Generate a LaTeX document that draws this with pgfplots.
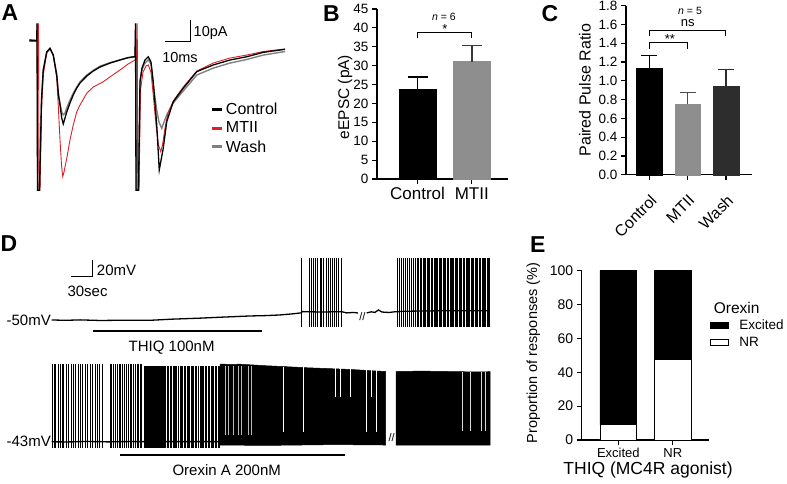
\documentclass[border=0pt]{standalone}
\usepackage{fontspec}
\setmainfont{Liberation Sans}
\usepackage{pgfplots}
\pgfplotsset{compat=1.18}
\definecolor{mred}{RGB}{218,32,40}
\definecolor{wgray}{RGB}{128,128,128}
\definecolor{bgray}{RGB}{142,142,142}
\definecolor{dgray}{RGB}{45,45,45}
\newcommand{\fsz}[1]{\fontsize{#1}{#1}\selectfont}
\pgfplotsset{
  /pgf/number format/assume math mode=true,
  barax/.style={scale only axis, anchor=south west,
    axis x line*=bottom, axis y line*=left,
    axis line style={-, line width=1.2pt, black},
    tick align=outside, major tick length=5pt,
    tick style={line width=1.2pt, black}, clip=false},
  spk/.style={draw=none, mark=none, forget plot,
    error bars/.cd, y dir=both, y fixed=#1, error mark=none,
    error bar style={draw=black, line width=0.6pt}},
}
\begin{document}
\begin{tikzpicture}
\path[use as bounding box] (0pt,0pt) rectangle (787pt,-484pt);

% ---------------- Panel A ----------------
\begin{axis}[at={(25pt,-194.3pt)}, anchor=south west, scale only axis,
  width=270pt, height=178.5pt, xmin=-2, xmax=106, ymin=-73, ymax=12,
  hide axis, clip=false,
  legend style={at={(axis cs:72.3,-28.4)}, anchor=north west, draw=none, fill=none,
    font=\fsz{16}, inner sep=0pt, row sep=2pt},
  legend cell align=left,
  legend image code/.code={\draw[#1, line width=3pt] (0pt,0pt) -- (10pt,0pt);}]
\addplot[wgray, line width=1.4pt, forget plot] coordinates {
(-0.3,0.3) (2.7,0.3) (2.9,8.4) (3.1,-71) (3.8,-71) (4.6,-28) (5.3,-13.8) (6.7,-5.2) (8,-3.5) (9.3,-6.7) (10.7,-16.2) (11.4,-25.7) (12,-29.5) (12.7,-33.8) (13.3,-35.2) (14,-34.3) (14.7,-31.9) (16,-28.1) (17.3,-24.8) (18.7,-21.9) (20,-19.5) (22.7,-16.2) (25.3,-14) (28,-12) (32,-10.3) (36,-9) (39.2,-8) (42,-7.6) (42.4,8.4) (42.6,-71) (43.4,-71) (44,-19.4) (44.8,-13.5) (46,-10.5) (47.3,-9) (48.4,-11) (49.3,-21) (50.7,-32.9) (51.6,-38.6) (52.7,-41.6) (53.6,-38.6) (54.7,-35.2) (57.3,-29.5) (61.3,-23.8) (66.7,-16.2) (73.3,-12.9) (80,-10.5) (86.7,-8.8) (93.3,-6.7) (102,-5)};
\addplot[mred, line width=0.9pt, forget plot] coordinates {
(-0.3,-0.2) (2.7,-0.2) (3.4,8.4) (3.6,-71) (4.0,-71) (4.6,-32.9) (5.3,-16.2) (6.7,-5.7) (8,-3.8) (9.3,-6.7) (10.7,-17.6) (11.4,-32.9) (12,-47.1) (12.6,-59) (13.1,-64.6) (13.6,-62.4) (14.7,-55.9) (16,-47.1) (17.3,-40) (18.7,-33.8) (20,-30.5) (22.7,-24.9) (25.3,-21.9) (29.3,-19.4) (32,-17.1) (36,-13.8) (39.2,-11) (42,-9.05) (42.6,-9) (42.9,8.4) (43.1,-71) (43.6,-71) (44.2,-23.3) (45.2,-14.8) (46.4,-11.9) (47.3,-11.4) (48.4,-14.8) (49.3,-25.7) (50.4,-40) (51.4,-49.5) (52.3,-52.7) (53,-49.5) (54,-41.4) (55.2,-34.3) (57.3,-28.6) (61.3,-21.9) (66.7,-14.3) (73.3,-10.5) (80,-8.1) (86.7,-6.7) (93.3,-5) (102,-3.8)};
\addplot[black, line width=1.3pt, forget plot] coordinates {
(-0.3,0.5) (2.7,0.2) (2.8,8.4) (3.0,-71) (3.8,-71) (4.6,-28.1) (5.3,-13.8) (6.7,-5.2) (8,-3.5) (9.3,-6.7) (10.7,-16.2) (11.4,-25.7) (12,-30.5) (12.7,-36.7) (13.3,-39.5) (14,-36.7) (14.7,-33.8) (16,-29.5) (17.3,-25.7) (18.7,-22.4) (20,-20) (22.7,-16.7) (25.3,-14.3) (28,-12.4) (32,-10.5) (36,-9.05) (39.2,-7.9) (42,-7.4) (42.2,8.4) (42.4,-71) (43.4,-71) (44,-19.4) (44.8,-12.9) (46,-9.05) (47.3,-7.5) (48.4,-10) (49.3,-19.4) (50.7,-40) (51.7,-61.4) (53.3,-51.1) (54.7,-38.4) (57.3,-28.9) (61.3,-22.5) (66.7,-14.6) (73.3,-11.4) (80,-9.05) (86.7,-7.5) (93.3,-5.4) (102,-3.95)};
\addlegendimage{black}\addlegendentry{Control}
\addlegendimage{mred}\addlegendentry{MTII}
\addlegendimage{wgray}\addlegendentry{Wash}
\draw[line width=1pt] (axis cs:54,0) -- (axis cs:64,0) -- (axis cs:64,10);
\node[anchor=west, font=\fsz{14.5}, inner sep=1pt] at (axis cs:65,3.7) {10pA};
\node[font=\fsz{14.5}] at (axis cs:60,-7.95) {10ms};
\end{axis}

% ---------------- Panel B ----------------
\begin{axis}[barax, at={(377pt,-179pt)}, width=131pt, height=170pt,
  xmin=0.254, xmax=2.667, ymin=0, ymax=45,
  xtick={1,2}, xticklabels={Control,MTII}, ytick={0,5,...,45},
  xticklabel style={font=\fsz{17}}, yticklabel style={font=\fsz{13.5}},
  ylabel={eEPSC (pA)}, ylabel style={font=\fsz{15.5}, at={(rel axis cs:-0.244,0.482)}, anchor=center}]
\addplot[ybar, bar width=37pt, bar shift=0pt, fill=black, draw=black,
  error bars/.cd, y dir=plus, y explicit, error bar style={line width=1.5pt, black},
  error mark options={rotate=90, line width=1.5pt, mark size=10pt, black}] coordinates {(1,23.7) +- (0,3.3)};
\addplot[ybar, bar width=37pt, bar shift=0pt, fill=bgray, draw=bgray,
  error bars/.cd, y dir=plus, y explicit, error bar style={line width=1.5pt, gray!45!black},
  error mark options={rotate=90, line width=1.5pt, mark size=10pt, gray!45!black}] coordinates {(2,31.1) +- (0,4.2)};
\draw[line width=1pt] (axis cs:1,37.3) -- (axis cs:1,38.8) -- (axis cs:2,38.8) -- (axis cs:2,37.3);
\node[font=\fsz{13}] at (axis cs:1.506,39.6) {*};
\node[font=\fsz{10.5}] at (axis cs:1.485,42.8) {\textit{n} = 6};
\end{axis}

% ---------------- Panel C ----------------
\begin{axis}[barax, at={(626pt,-174.7pt)}, width=125.7pt, height=169pt,
  xmin=0.386, xmax=3.672, ymin=0, ymax=1.8,
  xtick={1,2,3}, xticklabels={Control,MTII,Wash},
  ytick={0,0.2,0.4,0.6,0.8,1.0,1.2,1.4,1.6,1.8},
  yticklabel style={font=\fsz{13.5}, /pgf/number format/.cd, fixed, fixed zerofill, precision=1},
  xticklabel style={font=\fsz{16}, yshift=-9pt, xshift=0pt, rotate=45, anchor=north east},
  ylabel={Paired Pulse Ratio}, ylabel style={font=\fsz{16}, at={(rel axis cs:-0.326,0.5)}, anchor=center}]
\addplot[ybar, bar width=25.7pt, bar shift=0pt, fill=black, draw=black,
  error bars/.cd, y dir=plus, y explicit, error bar style={line width=1.5pt, black},
  error mark options={rotate=90, line width=1.5pt, mark size=8pt, black}] coordinates {(1,1.13) +- (0,0.14)};
\addplot[ybar, bar width=25.7pt, bar shift=0pt, fill=bgray, draw=bgray,
  error bars/.cd, y dir=plus, y explicit, error bar style={line width=1.5pt, gray!60!black},
  error mark options={rotate=90, line width=1.5pt, mark size=8pt, gray!60!black}] coordinates {(2,0.756) +- (0,0.121)};
\addplot[ybar, bar width=25.7pt, bar shift=0pt, fill=dgray, draw=dgray,
  error bars/.cd, y dir=plus, y explicit, error bar style={line width=1.5pt, dgray},
  error mark options={rotate=90, line width=1.5pt, mark size=8pt, dgray}] coordinates {(3,0.945) +- (0,0.173)};
\draw[line width=1pt] (axis cs:1,1.339) -- (axis cs:1,1.41) -- (axis cs:2,1.41) -- (axis cs:2,1.339);
\draw[line width=1pt] (axis cs:1,1.48) -- (axis cs:1,1.541) -- (axis cs:2.99,1.541) -- (axis cs:2.99,1.48);
\node[font=\fsz{13}] at (axis cs:1.536,1.445) {**};
\node[font=\fsz{13}] at (axis cs:2.0,1.619) {ns};
\node[font=\fsz{10.5}] at (axis cs:2.06,1.747) {\textit{n} = 5};
\end{axis}

% ---------------- Panel D (top trace) ----------------
\begin{axis}[at={(50.3pt,-330pt)}, anchor=south west, scale only axis,
  width=441.8pt, height=73.5pt, xmin=-2, xmax=620, ymin=-62, ymax=26,
  hide axis, clip=false]
\addplot[black, line width=1.3pt] coordinates {(0,-50) (20,-50.4) (40,-49.9) (68,-50.6) (100,-50.3) (138,-50.4) (170,-49) (209,-47.8) (240,-46.6) (279,-45.2) (300,-44.8) (321,-44) (340,-42.6) (351,-41.5) (353,-40) (380,-40.5) (408,-40) (415,-41.5) (425,-41) (431,-41.6)};
\addplot[black, line width=1.3pt] coordinates {(443.5,-41.6) (450,-40.2) (455,-41) (460,-38) (465,-40.5) (475,-41) (483,-40.2) (500,-39.5) (550,-39) (617,-39)};
\addplot[spk=41] coordinates {(352,-17) (362.5,-17) (365.5,-17) (368.5,-17) (371.5,-17) (374.5,-17) (377.5,-17) (380,-17) (383,-17) (386,-17) (389,-17) (392,-17) (395,-17) (398,-17) (401,-17) (404,-17) (407.5,-17)};
\addplot[spk=41] coordinates {(486.5,-17) (489.5,-17) (492,-17) (495,-17) (497.5,-17) (500.5,-17) (503,-17) (506,-17) (508.5,-17) (511.5,-17) (514,-17) (516.5,-17) (518.5,-17) (520.5,-17) (522.5,-17) (524.5,-17) (526.5,-17) (528.5,-17) (530.5,-17) (532,-17) (534,-17) (536,-17) (538,-17) (539.5,-17) (541.5,-17) (543.5,-17) (545.5,-17) (547,-17) (549,-17) (551,-17) (553,-17) (554.5,-17) (556.5,-17) (558.5,-17) (560.5,-17) (562,-17) (564,-17) (566,-17) (568,-17) (569.5,-17) (571.5,-17) (573.5,-17) (575.5,-17) (577,-17) (579,-17) (581,-17) (583,-17) (584.5,-17) (586.5,-17) (588.5,-17) (590.5,-17) (592,-17) (594,-17) (596,-17) (598,-17) (599.5,-17) (601.5,-17) (603.5,-17) (605.5,-17) (607,-17) (609,-17) (611,-17) (613,-17) (614.5,-17) (616.5,-17)};
\node[font=\fsz{11}] at (axis cs:437.5,-45.5) {//};
\draw[line width=1pt] (axis cs:27.2,1.9) -- (axis cs:57.2,1.9) -- (axis cs:57.2,21.9);
\node[anchor=west, font=\fsz{15}, inner sep=1pt] at (axis cs:62,9.9) {20mV};
\node[font=\fsz{15}] at (axis cs:50.4,-16.1) {30sec};
\node[anchor=east, font=\fsz{15}, inner sep=0pt] at (axis cs:-1,-50) {-50mV};
\draw[line width=2pt] (axis cs:58.6,-62.8) -- (axis cs:295.7,-62.8);
\node[font=\fsz{15}] at (axis cs:168.8,-82.7) {THIQ 100nM};
\end{axis}

% ---------------- Panel D (bottom trace) ----------------
\begin{axis}[at={(50.3pt,-451.7pt)}, anchor=south west, scale only axis,
  width=441.8pt, height=92.7pt, xmin=-2, xmax=620, ymin=-55, ymax=56,
  hide axis, clip=false]
\addplot[black, line width=1.4pt] coordinates {(0,-43) (20,-43.4) (50,-42.7) (80,-43.2) (110,-42.8) (140,-43) (237,-43)};
\addplot[spk=50] coordinates {(0.5,0) (3,0) (5.5,0) (9,0) (12,0) (14.5,0) (17,0) (21,0) (24,0) (27.5,0) (30,0) (33,0) (37,0) (40.5,0) (43,0) (47,0) (50,0) (54,0) (57,0) (61,0) (64,0) (67.5,0) (71,0) (82,0) (84.5,0) (87,0) (89,0) (92,0) (94.5,0) (97,0) (99.5,0) (102,0) (105,0) (107.5,0) (110,0) (112.5,0) (115,0) (117,0) (120,0) (122.5,0) (125,0) (126.5,0)};
\addplot[spk=49] coordinates {(131,-1) (132.2,-1) (133.4,-1) (134.6,-1) (135.8,-1) (137,-1) (138.2,-1) (139.4,-1) (140.6,-1) (141.8,-1) (143,-1) (144.2,-1) (145.4,-1) (146.6,-1) (147.8,-1) (149,-1) (150.2,-1) (151.4,-1) (152.6,-1) (153.8,-1) (155,-1) (156.2,-1) (157.4,-1) (158.6,-1) (160.5,-1) (162.5,-1) (164,-1) (166.5,-1) (168,-1) (170.5,-1) (172,-1) (174.5,-1) (176,-1) (178,-1) (180.5,-1) (182,-1) (184.5,-1) (186,-1) (188,-1) (190.5,-1) (192,-1) (194,-1) (196.5,-1) (198,-1) (200,-1) (202.5,-1) (204,-1) (206,-1) (208.5,-1) (210,-1) (212,-1) (214,-1) (216.5,-1) (218,-1) (220,-1) (222,-1) (224.5,-1) (226,-1) (228,-1) (230,-1) (232,-1) (234,-1) (236,-1)};
\addplot[fill=black, draw=black, line width=0.5pt] coordinates {(237,-47) (237,50) (250,49.5) (265,49.8) (283,48.9) (300,48) (330,46.8) (360,45.5) (390,44.5) (420,43.5) (450,42) (470,41) (470,-47) (400,-46.5) (300,-47.5)} -- cycle;
\addplot[fill=black, draw=black, line width=0.5pt] coordinates {(484.8,-47) (484.8,41) (520,41.5) (560,41) (600,40.5) (617.2,40.8) (617.2,-47)} -- cycle;
\addplot[spk=41.5, error bar style={draw=gray!55, line width=0.7pt}] coordinates {(244,6.5) (248.7,6.5) (255.7,6.5) (262.7,6.5) (267.5,6.5) (276.8,6.5) (281.6,6.5)};
\addplot[spk=39, error bar style={draw=white, line width=0.8pt}] coordinates {(326.1,7) (354.3,7) (443.5,7) (457.6,7)};
\addplot[spk=17.5, error bar style={draw=white, line width=0.8pt}] coordinates {(398.9,27.5) (405.9,27.5) (420,27.5) (450.6,27.5)};
\addplot[spk=35, error bar style={draw=white!85!black, line width=0.8pt}] coordinates {(578.7,5) (589,5) (605.4,5) (610.1,5)};
\node[anchor=east, font=\fsz{15}, inner sep=0pt] at (axis cs:-1,-43) {-43mV};
\node[font=\fsz{11}] at (axis cs:478.5,-38.6) {//};
\draw[line width=2pt] (axis cs:96.2,-58.9) -- (axis cs:413,-58.9);
\node[font=\fsz{15}] at (axis cs:246.4,-76.9) {Orexin A 200nM};
\end{axis}

% ---------------- Panel E ----------------
\begin{axis}[barax, at={(581.7pt,-440pt)}, width=127.3pt, height=169.3pt,
  xmin=0.328, xmax=2.664, ymin=0, ymax=100, ybar stacked, bar width=36.7pt,
  xtick={1,2}, xticklabels={Excited,NR}, ytick={0,20,...,100},
  yticklabel style={font=\fsz{14}}, xticklabel style={font=\fsz{13}},
  ylabel={Proportion of responses (\%)},
  ylabel style={font=\fsz{14.5}, at={(rel axis cs:-0.380,0.514)}, anchor=center},
  xlabel={THIQ (MC4R agonist)},
  xlabel style={font=\fsz{17.5}, at={(rel axis cs:0.521,-0.177)}, anchor=center},
  reverse legend, legend cell align=left,
  legend style={at={(rel axis cs:1.0024,0.7206)}, anchor=north west, draw=none, fill=none,
    font=\fsz{13.5}, inner sep=0pt, row sep=2pt, /tikz/column 1/.style={column sep=9pt}},
  legend image code/.code={\draw[#1, line width=0.8pt] (0pt,-3pt) rectangle (18pt,3pt);}]
\addplot[fill=white, draw=black, line width=0.8pt] coordinates {(1,9.09) (2,47.37)};
\addlegendentry{NR}
\addplot[fill=black, draw=black, line width=0.8pt] coordinates {(1,90.91) (2,52.63)};
\addlegendentry{Excited}
\node[font=\fsz{12}] at (axis cs:1,4.3) {(11)};
\node[font=\fsz{12}] at (axis cs:2,4.3) {(19)};
\node[font=\fsz{15.5}] at (rel axis cs:1.2176,0.778) {Orexin};
\end{axis}

\node[anchor=north west, inner sep=0pt, font=\bfseries\fsz{23}] at (1.5pt,-4.5pt) {A};
\node[anchor=north west, inner sep=0pt, font=\bfseries\fsz{23}] at (323pt,-5pt) {B};
\node[anchor=north west, inner sep=0pt, font=\bfseries\fsz{23}] at (541.5pt,-5pt) {C};
\node[anchor=north west, inner sep=0pt, font=\bfseries\fsz{23}] at (0.5pt,-235pt) {D};
\node[anchor=north west, inner sep=0pt, font=\bfseries\fsz{23}] at (530pt,-236pt) {E};
\end{tikzpicture}
\end{document}
